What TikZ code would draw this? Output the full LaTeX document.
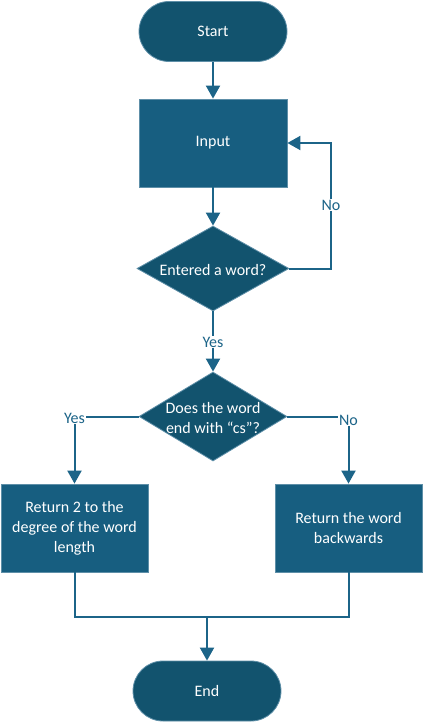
\documentclass[tikz,border=0pt]{standalone}
\usepackage{fontspec}
\setmainfont{Carlito}
\usetikzlibrary{arrows.meta,shapes.geometric}
\definecolor{termfill}{HTML}{12536E}
\definecolor{boxfill}{HTML}{175E80}
\definecolor{edgeline}{HTML}{5E8FA8}
\definecolor{conn}{HTML}{1C6488}
\tikzset{
  x=1pt,y=-1pt,
  every node/.style={font=\fontsize{16}{20}\selectfont},
  term/.style={draw=edgeline,line width=0.8pt,fill=termfill,rectangle,rounded corners=30pt,minimum width=148pt,minimum height=60pt,text=white,inner sep=0pt},
  procbox/.style={draw=edgeline,line width=0.8pt,fill=boxfill,rectangle,minimum width=147pt,minimum height=88pt,text=white,inner sep=0pt,align=center},
  decis/.style={draw=edgeline,line width=0.8pt,fill=termfill,diamond,inner sep=0pt},
  dtext/.style={text=white,align=center,inner sep=0pt},
  conline/.style={draw=conn,line width=2pt},
  arr/.style={conline,-{Triangle[length=13pt,width=14pt]}},
  lab/.style={fill=white,text=conn,inner sep=1pt}
}
\begin{document}
\begin{tikzpicture}
\useasboundingbox (0,0) rectangle (423,722);
\node[term] (start) at (213,31.5) {Start};
\node[procbox,minimum width=148pt] (input) at (213,143) {Input};
\node[decis,minimum width=152pt,minimum height=85pt] (d1) at (213,268.5) {};
\node[dtext] (d1t) at (213,270) {Entered a word?};
\node[decis,minimum width=148pt,minimum height=89pt] (d2) at (213,416.5) {};
\node[dtext] (d2t) at (213,418) {Does the word\\end with “cs”?};
\node[procbox] (lb) at (74.5,528) {Return 2 to the\\degree of the word\\length};
\node[procbox] (rb) at (348.5,528) {Return the word\\backwards};
\node[term] (end) at (207,691) {End};
\coordinate (nocorner) at (331,268.5);
\coordinate (merge) at (207,617);

\draw[arr] (start.south) -- (input.north);
\draw[arr] (input.south) -- (d1.north);
\draw[arr] (d1.east) -- (nocorner) |- (input.east);
\node[lab] (no1) at (331,205) {No};
\draw[arr] (d1.south) -- (d2.north);
\node[lab] (yes1) at (213,342) {Yes};
\draw[arr] (d2.west) -| (lb.north);
\node[lab] (yes2) at (74.5,418) {Yes};
\draw[arr] (d2.east) -| (rb.north);
\node[lab] (no2) at (348.5,420) {No};
\draw[conline] (lb.south) |- (merge) -| (rb.south);
\draw[arr] (merge) -- (end.north);
\end{tikzpicture}
\end{document}
